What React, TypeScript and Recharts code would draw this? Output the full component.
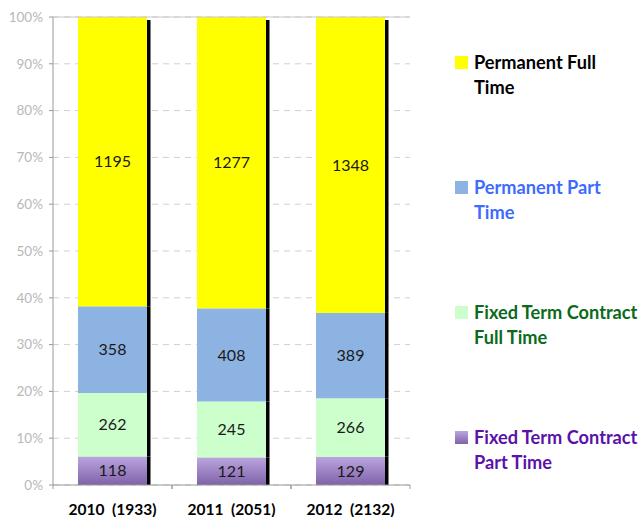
import React from 'react';
import {
  BarChart,
  Bar,
  XAxis,
  YAxis,
  CartesianGrid,
  LabelList,
  Legend,
  ReferenceLine,
} from 'recharts';

const categorias = ['2010  (1933)', '2011  (2051)', '2012  (2132)'];
const fixedPartTime = [118, 121, 129];
const fixedFullTime = [262, 245, 266];
const permPartTime = [358, 408, 389];
const permFullTime = [1195, 1277, 1348];
const yTicks = [0, 0.1, 0.2, 0.3, 0.4, 0.5, 0.6, 0.7, 0.8, 0.9, 1];

const dados = categorias.map((cat, i) => ({
  cat,
  fpt: fixedPartTime[i],
  fft: fixedFullTime[i],
  ppt: permPartTime[i],
  pft: permFullTime[i],
}));

const series = [
  { key: 'fpt', nome: 'Fixed Term Contract Part Time', linhas: ['Fixed Term Contract', 'Part Time'], fill: 'url(#roxo)', cor: '#5a12a8' },
  { key: 'fft', nome: 'Fixed Term Contract Full Time', linhas: ['Fixed Term Contract', 'Full Time'], fill: '#ccffcc', cor: '#0b6a1c' },
  { key: 'ppt', nome: 'Permanent Part Time', linhas: ['Permanent Part', 'Time'], fill: '#8db3e2', cor: '#3d6bff' },
  { key: 'pft', nome: 'Permanent Full Time', linhas: ['Permanent Full', 'Time'], fill: '#ffff00', cor: '#000000' },
];

const FONTE = 'Lato, "Open Sans", sans-serif';

// barra com sombra preta do lado direito
const formaComSombra = (topo: boolean) => (props: any) => {
  const { x, y, width, height, fill } = props;
  if (!height || height <= 0) return null;
  const off = topo ? 3 : 0;
  return (
    <g>
      <rect x={x + width} y={y + off} width={3.5} height={height - off} fill="#000" />
      <rect x={x} y={y} width={width} height={height} fill={fill} />
    </g>
  );
};

const TickX = (props: any) => {
  const { x, y, payload } = props;
  const off = payload && payload.offset ? payload.offset : 59.5;
  return (
    <g>
      <line x1={x - off} x2={x - off} y1={y} y2={y + 4} stroke="#999" />
      <line x1={x + off} x2={x + off} y1={y} y2={y + 4} stroke="#999" />
      <text x={x} y={y + 30} textAnchor="middle" fontFamily={FONTE} fontWeight="bold" fontSize={15.5} fill="#000" style={{ whiteSpace: 'pre' }}>
        {payload.value}
      </text>
    </g>
  );
};

const Legenda = () => (
  <div style={{ fontFamily: FONTE, width: 186 }}>
    {[...series].reverse().map((s) => (
      <div key={s.key} style={{ position: 'relative', height: 125 }}>
        <svg width={13} height={13} style={{ position: 'absolute', left: 0, top: 6 }}>
          <defs>
            <linearGradient id={'lg' + s.key} x1="0" y1="0" x2="0" y2="1">
              <stop offset="0%" stopColor="#bba6df" />
              <stop offset="100%" stopColor="#7f62a9" />
            </linearGradient>
          </defs>
          <rect width={13} height={13} fill={s.key === 'fpt' ? 'url(#lg' + s.key + ')' : s.fill} />
        </svg>
        <div style={{ position: 'absolute', left: 19, top: 0, fontWeight: 'bold', fontSize: 18.2, lineHeight: '25px', color: s.cor, whiteSpace: 'nowrap' }}>
          {s.linhas.map((l) => (
            <div key={l}>{l}</div>
          ))}
        </div>
      </div>
    ))}
  </div>
);

export default function App() {
  return (
    <div style={{ position: 'absolute', left: 0, top: 0, background: '#fff' }}>
      <BarChart
        width={641}
        height={517}
        data={dados}
        stackOffset="expand"
        margin={{ top: 17, right: 45, left: 0, bottom: 0 }}
      >
        <defs>
          <linearGradient id="roxo" x1="0" y1="0" x2="0" y2="1">
            <stop offset="0%" stopColor="#bba6df" />
            <stop offset="100%" stopColor="#7f62a9" />
          </linearGradient>
        </defs>
        <CartesianGrid vertical={false} stroke="#d0d0d0" strokeDasharray="6 5" />
        <ReferenceLine y={1} stroke="#c8c8c8" />
        <XAxis
          dataKey="cat"
          height={32}
          tickSize={0}
          tickMargin={0}
          tickLine={false}
          axisLine={{ stroke: '#999' }}
          tick={<TickX />}
          interval={0}
        />
        <YAxis
          width={53}
          domain={[0, 1]}
          ticks={yTicks}
          tickSize={4}
          tickMargin={6}
          tickLine={{ stroke: '#999' }}
          axisLine={{ stroke: '#999' }}
          tickFormatter={(v: number) => Math.round(v * 100) + '%'}
          tick={{ fill: '#b8b8b8', fontSize: 13.5, fontFamily: FONTE }}
        />
        <Legend
          content={<Legenda />}
          layout="vertical"
          align="right"
          verticalAlign="top"
          wrapperStyle={{ left: 455, top: 50, width: 186 }}
        />
        {series.map((s, i) => (
          <Bar
            key={s.key}
            dataKey={s.key}
            name={s.nome}
            stackId="a"
            fill={s.fill}
            barSize={69}
            isAnimationActive={false}
            shape={formaComSombra(i === series.length - 1)}
          >
            <LabelList dataKey={s.key} position="center" fill="#1a1a1a" fontSize={16} fontFamily={FONTE} />
          </Bar>
        ))}
      </BarChart>
    </div>
  );
}
